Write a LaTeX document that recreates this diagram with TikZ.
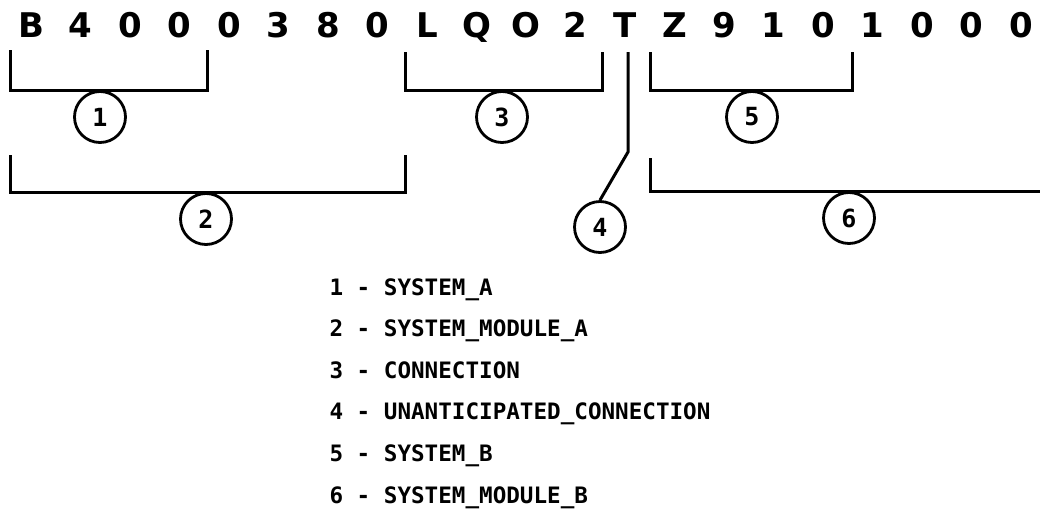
\documentclass[tikz,border=0pt]{standalone}
\usepackage{fontspec}
\setmainfont{DejaVu Sans}
\newfontfamily\codefont{DejaVu Sans Mono}

\begin{document}
\begin{tikzpicture}[x=1pt, y=-1pt, line width=3pt,
		idchar/.style={anchor=base, inner sep=0pt, font=\fontsize{34}{34}\selectfont\bfseries},
		tag/.style={draw, circle, minimum size=51pt, inner sep=0pt, line width=2.8pt, font=\codefont\bfseries\fontsize{25}{25}\selectfont},
		legend/.style={anchor=base west, inner sep=0pt, font=\codefont\bfseries\fontsize{22.6}{22.6}\selectfont}]
		\useasboundingbox (0,0) rectangle (1040,517);
		% identifier
		\foreach \c [count=\i from 0] in {B,4,0,0,0,3,8,0,L,Q,O,2,T,Z,9,1,0,1,0,0,0}
			\node[idchar] (c\i) at ({31+49.5*\i},37) {\c};
		% brackets
		\draw (10,50)--(10,90)--(207,90)--(207,50);
		\draw (405,52)--(405,90)--(602,90)--(602,52);
		\draw (650,52)--(650,90)--(852,90)--(852,52);
		\draw (10,155)--(10,192)--(405,192)--(405,155);
		\draw (650,158)--(650,191)--(1040,191);
		% numbered tags
		\node[tag] (n1) at (100,117) {1};
		\node[tag] (n2) at (206,219) {2};
		\node[tag] (n3) at (502,117) {3};
		\node[tag] (n4) at (600,227) {4};
		\node[tag] (n5) at (752,117) {5};
		\node[tag] (n6) at (849,218) {6};
		\coordinate (tfoot) at (628,52);
		\coordinate (tbend) at (628,152);
		\draw (tfoot)--(tbend)--(n4.north);
		% legend
		\foreach \t [count=\i] in {SYSTEM\_A, SYSTEM\_MODULE\_A, CONNECTION, UNANTICIPATED\_CONNECTION, SYSTEM\_B, SYSTEM\_MODULE\_B}
			\node[legend] (l\i) at (328,{253.4+41.6*\i}) {\i{} - \t};
	\end{tikzpicture}
\end{document}
